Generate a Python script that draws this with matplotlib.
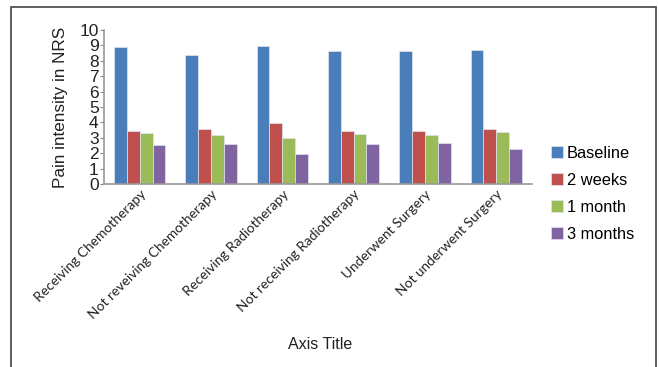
import numpy as np
import matplotlib.pyplot as plt
from matplotlib.patches import Rectangle

categories = ["Receiving Chemotherapy", "Not reveiving Chemotherapy",
              "Receiving Radiotherapy", "Not receiving Radiotherapy",
              "Underwent Surgery", "Not underwent Surgery"]
series_names = ["Baseline", "2 weeks", "1 month", "3 months"]
baseline = [8.87, 8.35, 8.96, 8.64, 8.61, 8.68]
two_weeks = [3.42, 3.57, 3.96, 3.46, 3.46, 3.55]
one_month = [3.31, 3.16, 2.97, 3.25, 3.18, 3.38]
three_months = [2.51, 2.58, 1.95, 2.58, 2.66, 2.25]
yticks = list(range(0, 11))

colors = ["#4A7EBB", "#C0504D", "#9BBB59", "#8064A2"]

fig = plt.figure(figsize=(6.59, 3.67), dpi=100)
ax = fig.add_axes([0.158, 0.4986, 0.649, 0.4196])

x = np.arange(len(categories))
width = 0.18
all_series = [baseline, two_weeks, one_month, three_months]
for i, (vals, name, col) in enumerate(zip(all_series, series_names, colors)):
    ax.bar(x + (i - 1.5) * width, vals, width, color=col, label=name,
           edgecolor="#dde6f0", linewidth=0.5)

ax.set_xlim(-0.5, len(categories) - 0.5)
ax.set_ylim(0, 10)
ax.set_yticks(yticks)
ax.set_yticklabels([str(t) for t in yticks], fontsize=12.5, family="Liberation Sans",
                   color="#222222")
ax.tick_params(axis="y", length=3, width=0.8, color="#888888", pad=1)
ax.tick_params(axis="x", length=0, pad=3)
ax.set_xticks(x)
ax.set_xticklabels(categories, rotation=45, ha="right", va="top",
                   rotation_mode="anchor", fontsize=9.9, family="Lato",
                   color="#222222")
for sp in ["top", "right"]:
    ax.spines[sp].set_visible(False)
for sp in ["left", "bottom"]:
    ax.spines[sp].set_color("#999999")
    ax.spines[sp].set_linewidth(1.2)

ax.set_ylabel("Pain intensity in NRS", fontsize=12.3, family="Liberation Sans",
              color="#222222", labelpad=8)
fig.text(0.486, 0.06, "Axis Title", fontsize=11.5, family="Liberation Sans",
         color="#222222", ha="center", va="center")

leg = ax.legend(loc="upper left", bbox_to_anchor=(1.03, 0.29), frameon=False,
                prop={"family": "Liberation Sans", "size": 11.8},
                handlelength=0.7, handleheight=0.7, handletextpad=0.25,
                labelspacing=0.73, borderaxespad=0)

fig.patches.append(Rectangle((0.0167, -0.02), 0.978, 1.0, transform=fig.transFigure,
                             fill=False, edgecolor="#444444", linewidth=1.2))

fig.savefig("out.png", dpi=100)
